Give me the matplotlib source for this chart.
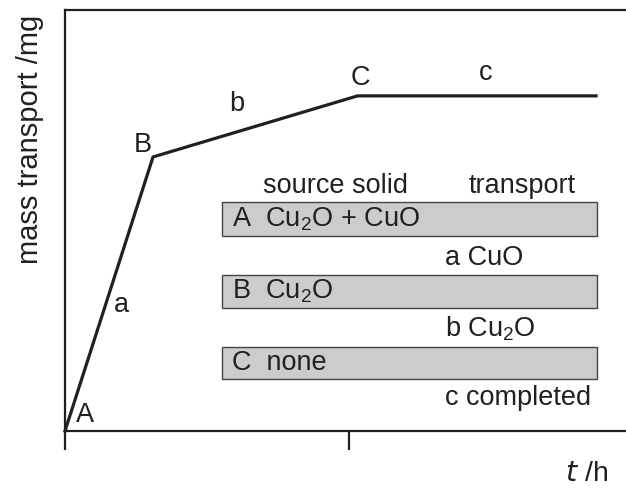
import matplotlib
matplotlib.use("Agg")
import matplotlib.pyplot as plt
from matplotlib.patches import Rectangle

plt.rcParams['font.family'] = ['Liberation Sans', 'DejaVu Sans']
plt.rcParams['mathtext.default'] = 'regular'

# transport curve (t in arbitrary units, mass in arbitrary units)
t_pts = [0.0, 0.31, 1.03, 1.87]
m_pts = [0.0, 0.651, 0.796, 0.796]

# stage boxes: source solid / transported phase
box_labels = ["A  Cu$_2$O + CuO", "B  Cu$_2$O", "C  none"]
box_top = [0.544, 0.371, 0.200]
box_bottom = [0.463, 0.292, 0.124]
box_x0, box_x1 = 0.553, 1.873
transport_labels = ["a CuO", "b Cu$_2$O", "c completed"]
transport_y = [0.411, 0.244, 0.078]

ink = "#231f20"
fs = 19.5

fig = plt.figure(figsize=(6.26, 4.9), dpi=100)
ax = fig.add_axes([65 / 626, (490 - 431) / 490, 568 / 626, 421 / 490])
ax.set_xlim(0, 2)
ax.set_ylim(0, 1)

ax.plot(t_pts, m_pts, color=ink, lw=2.3, solid_joinstyle='miter', clip_on=False)

for top, bot, lab in zip(box_top, box_bottom, box_labels):
    ax.add_patch(Rectangle((box_x0, bot), box_x1 - box_x0, top - bot,
                           facecolor="#cccccc", edgecolor="#444444", lw=1.0))
    ax.text(box_x0 + 0.035, (top + bot) / 2, lab, fontsize=fs, color=ink,
            va='center', ha='left')

for y, lab in zip(transport_y, transport_labels):
    ax.text(1.338, y, lab, fontsize=fs, color=ink, va='center', ha='left')

ax.text(0.952, 0.582, "source solid", fontsize=fs, color=ink, ha='center', va='center')
ax.text(1.61, 0.582, "transport", fontsize=fs, color=ink, ha='center', va='center')

# point and segment labels
ax.text(0.07, 0.038, "A", fontsize=fs, color=ink, ha='center', va='center')
ax.text(0.275, 0.68, "B", fontsize=fs, color=ink, ha='center', va='center')
ax.text(1.04, 0.838, "C", fontsize=fs, color=ink, ha='center', va='center')
ax.text(0.197, 0.30, "a", fontsize=fs, color=ink, ha='center', va='center')
ax.text(0.605, 0.776, "b", fontsize=fs, color=ink, ha='center', va='center')
ax.text(1.482, 0.85, "c", fontsize=fs, color=ink, ha='center', va='center')

for side in ['left', 'bottom', 'top']:
    ax.spines[side].set_color(ink)
    ax.spines[side].set_linewidth(1.6)
ax.spines['right'].set_visible(False)

ax.set_yticks([])
ax.set_xticks([0, 1])
ax.set_xticklabels([])
ax.tick_params(axis='x', direction='out', length=14, width=1.6, color=ink)

fig.text(30 / 626, 1 - 139 / 490, "mass transport /mg", fontsize=21, color=ink,
         rotation=90, ha='center', va='center')
fig.text(587 / 626, 1 - 474 / 490, "$\\it{t}$ /h", fontsize=20.5, color=ink,
         ha='center', va='center')

fig.savefig("out.png", dpi=100)
